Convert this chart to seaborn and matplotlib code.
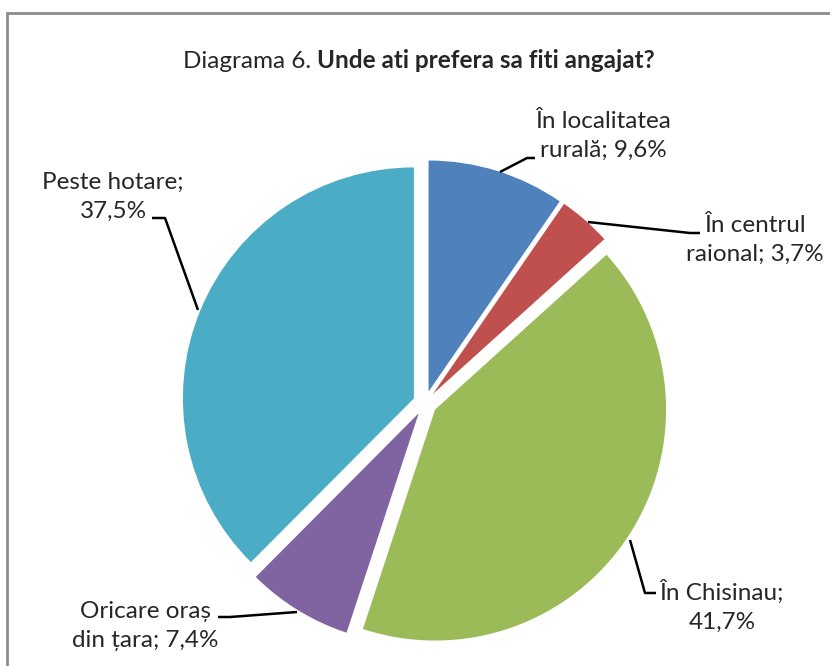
import matplotlib.pyplot as plt
import seaborn as sns
from matplotlib.patches import Rectangle

# --- DATA ---
categories = ["În localitatea\nrurală", "În centrul\nraional", "În Chisinau",
              "Oricare oraș\ndin țara", "Peste hotare"]
values = [9.6, 3.7, 41.7, 7.4, 37.5]
value_labels = ["9,6%", "3,7%", "41,7%", "7,4%", "37,5%"]
colors = ["#4F81BD", "#C0504D", "#9BBB59", "#8064A2", "#4BACC6"]

sns.set_theme(style="white")
plt.rcParams['font.family'] = ['Lato', 'DejaVu Sans']
TXT = "#262626"
H = 666

fig = plt.figure(figsize=(8.3, 6.66), dpi=100)
ax = fig.add_axes([0, 0, 1, 1])

# pie, coordinates in pixels (y up); explode is in data units here
R = 231
cx, cy = 425, H - 403
ax.pie(values, colors=colors, startangle=90, counterclock=False,
       explode=[12] * len(values), radius=R, center=(cx, cy),
       wedgeprops=dict(linewidth=0))
ax.set_xlim(0, 830)
ax.set_ylim(0, H)
ax.set_aspect('equal')
ax.axis('off')

# outer frame
fig.patches.append(Rectangle((7 / 830, -0.05), 1.1, (H - 13) / H + 0.05,
                             transform=fig.transFigure, fill=False,
                             edgecolor="#8c8c8c", linewidth=2))

# title: normal + bold part
t1 = ax.text(183, H - 62, "Diagrama 6. ", fontsize=17.5, color=TXT,
             ha='left', va='center')
ax.annotate("Unde ati prefera sa fiti angajat?", xy=(1, 0), xycoords=t1,
            ha='left', va='bottom', fontsize=17.5, fontweight='bold', color=TXT)

# labels with leader lines (pixel coords from top)
def lab(i, x, y, line):
    if "\n" in categories[i]:
        s = f"{categories[i]}; {value_labels[i]}"
    else:
        s = f"{categories[i]};\n{value_labels[i]}"
    ax.text(x, H - y, s, fontsize=17.5, color=TXT, ha='center', va='center',
            linespacing=1.45, multialignment='center')
    xs = [p[0] for p in line]
    ys = [H - p[1] for p in line]
    ax.plot(xs, ys, color="black", linewidth=1.8, solid_capstyle='butt')

lab(0, 603, 136, [(500, 172), (527, 158), (535, 158)])
lab(1, 755, 240, [(588, 222), (690, 233), (700, 233)])
lab(2, 722, 606, [(630, 540), (645, 593), (656, 593)])
lab(3, 145, 626, [(297, 612), (230, 617), (218, 617)])
lab(4, 113, 197, [(152, 218), (165, 218), (198, 310)])

fig.savefig("out.png", dpi=100)
